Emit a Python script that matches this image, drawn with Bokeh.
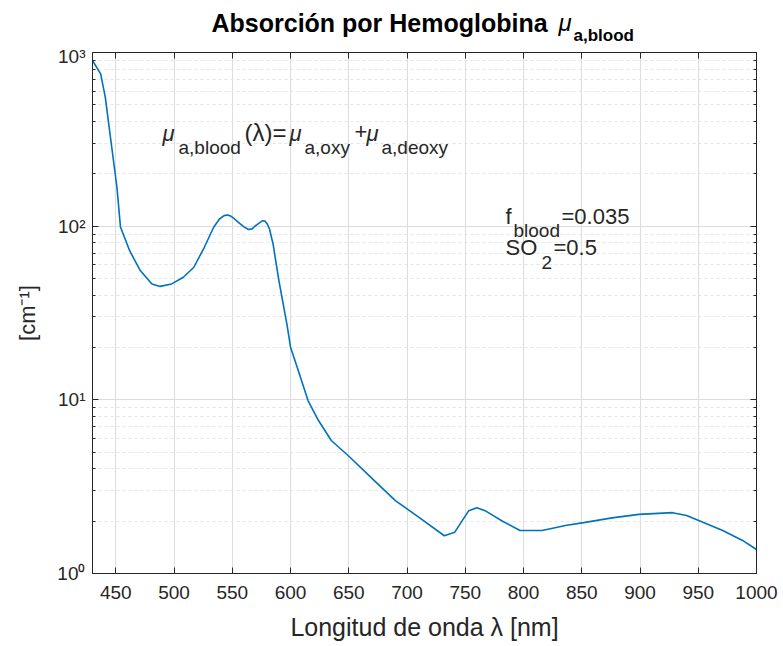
from bokeh.plotting import figure
from bokeh.layouts import column
from bokeh.models import FixedTicker, Label, LinearAxis, LogAxis
from bokeh.embed import file_html
from bokeh.resources import INLINE

# ---- data ----
wavelength_nm = [430, 437, 441, 445, 451, 454, 462, 471, 481, 488, 498, 508, 517, 526,
                 534, 539, 543, 546, 549, 552, 556, 560, 564, 567, 570, 573, 576, 578,
                 580, 582, 585, 590, 597, 600, 606, 615, 624, 635,
                 651, 669, 690, 710, 732, 741, 753, 760, 767, 782, 797, 816, 836, 853,
                 876, 899, 928, 940, 954, 971, 988, 1000]
mu_a_blood = [900, 753, 552, 341, 167, 99, 72, 55.5, 46.5, 45, 46.5, 50.8, 58, 75.6,
              98.6, 110, 115, 116, 114, 110, 104, 99, 95.6, 96.5, 100.7, 104, 107.5, 107,
              103, 96, 79, 48.6, 27, 20.1, 15.2, 9.9, 7.6, 5.83,
              4.67, 3.58, 2.63, 2.11, 1.65, 1.73, 2.30, 2.39, 2.30, 2.0, 1.77, 1.77, 1.89, 1.97,
              2.09, 2.19, 2.24, 2.16, 1.97, 1.77, 1.55, 1.375]

x_ticks = [450, 500, 550, 600, 650, 700, 750, 800, 850, 900, 950, 1000]
y_ticks = [1, 10, 100, 1000]
y_tick_labels = ["10⁰", "10¹", "10²", "10³"]
y_minor = [m * d for d in (1, 10, 100) for m in range(2, 10)]

X_MIN, X_MAX = 430, 1000
Y_MIN, Y_MAX = 1, 1000

# ---- layout ----
W, H = 783, 646
TITLE_H = 45
L, R, T, B = 92, 756, 52, 573   # frame edges in page pixels
BASE_SHIFT = 0.4                # label anchor offset (fraction of font size)

FONT = "Liberation Sans"
DARK = "#262626"

# title strip (its own small figure, coordinates = page pixels)
tf = figure(width=W, height=TITLE_H, x_range=(L, R), y_range=(0, TITLE_H),
            output_backend="svg", toolbar_location=None, title=None,
            x_axis_location=None, y_axis_location=None, min_border=0,
            min_border_left=L, min_border_right=W - R,
            outline_line_color=None, background_fill_color="white",
            border_fill_color="white")
tf.xgrid.visible = False
tf.ygrid.visible = False


def tlab(text, px, py, size, style):
    tf.add_layout(Label(x=px, y=TITLE_H - (py - BASE_SHIFT * size), text=text,
                        text_font=FONT, text_font_size=f"{size}px",
                        text_font_style=style, text_color="#000000",
                        text_baseline="alphabetic", text_align="left"))


tlab("Absorción por Hemoglobina", 211, 32, 25, "bold")
tlab("μ", 558, 32, 24, "italic")
tlab("a,blood", 573, 42, 17, "bold")

# main plot
p = figure(width=W, height=H - TITLE_H, x_range=(X_MIN, X_MAX), y_range=(Y_MIN, Y_MAX),
           y_axis_type="log", output_backend="svg", toolbar_location=None, title=None,
           min_border_left=L, min_border_right=W - R, min_border_top=T - TITLE_H,
           min_border_bottom=H - B, background_fill_color="white",
           border_fill_color="white", outline_line_color=DARK)

p.line(wavelength_nm, mu_a_blood, line_color="#0072BD", line_width=1.6)

xt = FixedTicker(ticks=x_ticks)
yt = FixedTicker(ticks=y_ticks, minor_ticks=y_minor)

bottom = p.below[0]
left = p.left[0]

bottom.ticker = xt
bottom.axis_label = "Longitud de onda λ [nm]"
bottom.axis_label_text_font = FONT
bottom.axis_label_text_font_size = "25px"
bottom.axis_label_text_font_style = "normal"
bottom.axis_label_text_color = DARK
bottom.axis_label_standoff = 11
bottom.major_label_standoff = 12

left.ticker = yt
left.major_label_overrides = dict(zip(y_ticks, y_tick_labels))
left.axis_label = "[cm⁻¹]"
left.axis_label_text_font = FONT
left.axis_label_text_font_size = "22px"
left.axis_label_text_font_style = "normal"
left.axis_label_text_color = DARK
left.axis_label_standoff = 14
left.major_label_standoff = 7

top = LinearAxis(ticker=xt, major_label_overrides={t: "" for t in x_ticks},
                 major_label_text_font_size="0px", major_label_standoff=0)
right = LogAxis(ticker=yt, major_label_overrides={t: "" for t in y_ticks},
                major_label_text_font_size="0px", major_label_standoff=0)
p.add_layout(top, "above")
p.add_layout(right, "right")

for ax in [bottom, left, top, right]:
    ax.axis_line_color = DARK
    ax.major_tick_line_color = DARK
    ax.major_tick_in = 6
    ax.major_tick_out = 0
    ax.major_label_text_color = DARK
for ax in [bottom, left]:
    ax.major_label_text_font = FONT
    ax.major_label_text_font_size = "19px"
for ax in [bottom, top]:
    ax.minor_tick_in = 0
    ax.minor_tick_out = 0
for ax in [left, right]:
    ax.minor_tick_in = 3
    ax.minor_tick_out = 0
    ax.minor_tick_line_color = DARK

p.xgrid.grid_line_color = "#dcdcdc"
p.ygrid.grid_line_color = "#dcdcdc"
p.ygrid.minor_grid_line_color = "#e4e4e4"
p.ygrid.minor_grid_line_dash = "3 3"


# ---- text annotations inside the frame (pixel positions converted to data) ----
def dx(px):
    return X_MIN + (px - L) / (R - L) * (X_MAX - X_MIN)


def dy(py):
    return 10 ** (3 * (B - py) / (B - T))


def lab(text, px, py, size, style="normal"):
    p.add_layout(Label(x=dx(px), y=dy(py - BASE_SHIFT * size), text=text,
                       text_font=FONT, text_font_size=f"{size}px",
                       text_font_style=style, text_color=DARK,
                       text_baseline="alphabetic", text_align="left"))


# formula
lab("μ", 162, 142, 22, "italic")
lab("a,blood", 178, 155, 19)
lab("(λ)=", 244, 142, 24)
lab("μ", 289, 142, 22, "italic")
lab("a,oxy", 304, 155, 19)
lab("+", 354, 140, 22)
lab("μ", 366, 142, 22, "italic")
lab("a,deoxy", 381, 155, 19)

# parameters
lab("f", 505, 225, 22)
lab("blood", 513, 238, 19)
lab("=0.035", 561, 225, 22)
lab("SO", 505, 256, 22)
lab("2", 541, 270, 19)
lab("=0.5", 553, 256, 22)

layout = column(tf, p, spacing=0)
open("out.html", "w").write(file_html(layout, INLINE))
